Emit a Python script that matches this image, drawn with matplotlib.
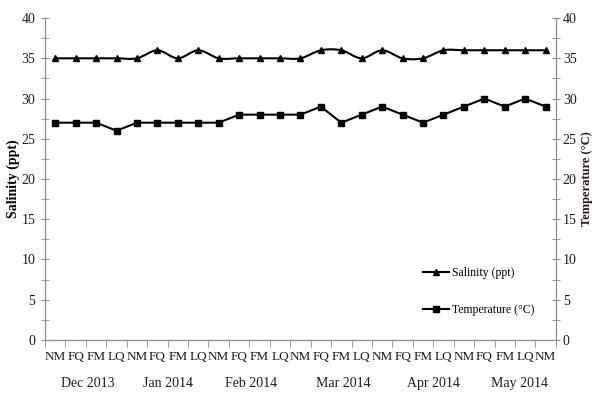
import numpy as np
import matplotlib
matplotlib.use('Agg')
import matplotlib.pyplot as plt
from matplotlib.path import Path
from matplotlib.patches import PathPatch
from matplotlib.ticker import MultipleLocator

plt.rcParams['font.family'] = ['Liberation Serif', 'DejaVu Serif']

# lunar phases, Dec 2013 - May 2014
phases = ['NM', 'FQ', 'FM', 'LQ'] * 6 + ['NM']
salinity = [35, 35, 35, 35, 35, 36, 35, 36, 35, 35, 35, 35, 35,
            36, 36, 35, 36, 35, 35, 36, 36, 36, 36, 36, 36]
temperature = [27, 27, 27, 26, 27, 27, 27, 27, 27, 28, 28, 28, 28,
               29, 27, 28, 29, 28, 27, 28, 29, 30, 29, 30, 29]
months = ['Dec 2013', 'Jan 2014', 'Feb 2014', 'Mar 2014', 'Apr 2014', 'May 2014']
month_pos = [1.6, 5.5, 9.6, 14.1, 18.5, 22.7]

GRAY = '#8c8c8c'


def smooth_path(x, y):
    # cubic bezier through every point (catmull-rom tangents)
    pts = np.column_stack([x, y]).astype(float)
    n = len(pts)
    verts = [pts[0]]
    codes = [Path.MOVETO]
    for i in range(n - 1):
        p0 = pts[i - 1] if i > 0 else pts[i]
        p1 = pts[i]
        p2 = pts[i + 1]
        p3 = pts[i + 2] if i + 2 < n else pts[i + 1]
        c1 = p1 + (p2 - p0) / 6
        c2 = p2 - (p3 - p1) / 6
        verts += [c1, c2, p2]
        codes += [Path.CURVE4] * 3
    return Path(verts, codes)


fig = plt.figure(figsize=(5.94, 3.93), dpi=100)
ax = fig.add_axes([0.0758, 0.135, 0.860, 0.819])
ax2 = ax.twinx()

x = np.arange(len(phases))

ax.add_patch(PathPatch(smooth_path(x, salinity), fill=False, lw=1.5, color='black'))
ax.plot(x, salinity, ls='none', marker='^', ms=4.5, color='black')
ax.plot([], [], '-^', ms=4.5, lw=1.5, color='black', label='Salinity (ppt)')

ax2.plot(x, temperature, '-s', ms=4.5, lw=1.5, color='black', label='Temperature (\u00b0C)')

for a in (ax, ax2):
    a.set_xlim(-0.5, len(phases) - 0.5)
    a.set_ylim(0, 40)
    a.yaxis.set_major_locator(MultipleLocator(5))
    a.yaxis.set_minor_locator(MultipleLocator(2.5))
    a.tick_params(axis='y', which='both', direction='inout', length=6,
                  color=GRAY, labelsize=10, pad=4, labelcolor='#1a1a2a')
    a.spines['top'].set_visible(False)
    for s in ('left', 'right', 'bottom'):
        a.spines[s].set_color(GRAY)
ax2.tick_params(axis='y', pad=2)

ax.set_xticks(x)
ax.set_xticklabels(phases)
ax.set_xticks(np.arange(-0.5, len(phases)), minor=True)
ax.tick_params(axis='x', which='major', length=0, labelsize=9.5, pad=8, labelcolor='#1a1a2a')
ax.tick_params(axis='x', which='minor', length=5, color=GRAY)

for m, p in zip(months, month_pos):
    ax.text(p, -0.134, m, transform=ax.get_xaxis_transform(), ha='center', va='center',
            fontsize=10, color='#1a1a2a')

ax.text(-0.063, 0.5, 'Salinity (ppt)', transform=ax.transAxes, rotation=90,
        ha='center', va='center', fontsize=10, fontweight='bold')
ax2.text(1.061, 0.5, 'Temperature (\u00b0C)', transform=ax.transAxes, rotation=90,
         ha='center', va='center', fontsize=9, fontweight='bold', color='#2e1414')

h1, l1 = ax.get_legend_handles_labels()
h2, l2 = ax2.get_legend_handles_labels()
ax2.legend(h1 + h2, l1 + l2, loc='upper left', bbox_to_anchor=(0.72, 0.26),
           frameon=False, fontsize=8.5, handlelength=2.2, handletextpad=0.2,
           labelspacing=2.1)

fig.savefig('out.png', dpi=100)
